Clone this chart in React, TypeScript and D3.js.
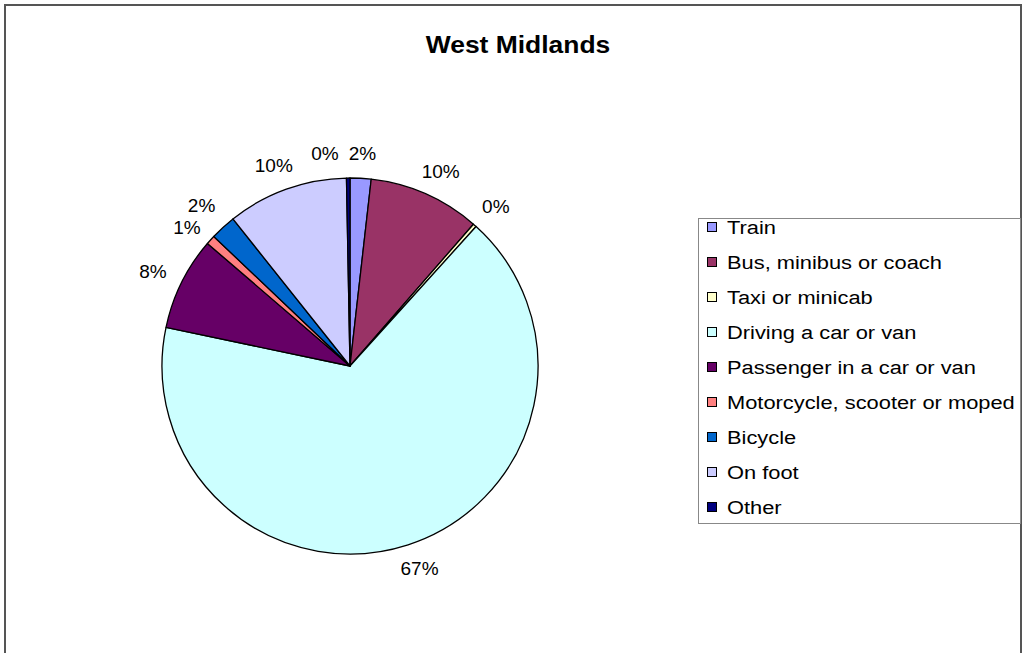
import React, { useEffect, useRef } from 'react';
import * as d3 from 'd3';

const categories: string[] = [
  'Train',
  'Bus, minibus or coach',
  'Taxi or minicab',
  'Driving a car or van',
  'Passenger in a car or van',
  'Motorcycle, scooter or moped',
  'Bicycle',
  'On foot',
  'Other',
];
// percent of trips
const shares: number[] = [1.8, 9.6, 0.3, 66.6, 8.0, 0.8, 2.2, 10.4, 0.3];
const colors: string[] = [
  '#9999FF',
  '#993366',
  '#FFFFCC',
  '#CCFFFF',
  '#660066',
  '#FF8080',
  '#0066CC',
  '#CCCCFF',
  '#000080',
];

const FONT = '"Liberation Sans", Arial, sans-serif';

interface LabelBox {
  x: number;
  y: number;
  w: number;
  h: number;
  angle: number;
}

const App: React.FC = () => {
  const ref = useRef<SVGSVGElement | null>(null);

  useEffect(() => {
    if (!ref.current) return;
    const width = 1024;
    const height = 653;

    const svg = d3.select(ref.current);
    svg.selectAll('*').remove();
    svg.attr('width', width).attr('height', height);

    // Frame
    svg
      .append('rect')
      .attr('x', 0)
      .attr('y', 0)
      .attr('width', width)
      .attr('height', height)
      .attr('fill', '#fff');
    svg
      .append('rect')
      .attr('x', 5)
      .attr('y', 5)
      .attr('width', 1016)
      .attr('height', 660)
      .attr('fill', 'none')
      .attr('stroke', '#555')
      .attr('stroke-width', 2);

    // Title
    svg
      .append('text')
      .attr('transform', 'translate(518,53) scale(1.15,1)')
      .attr('text-anchor', 'middle')
      .attr('font-family', FONT)
      .attr('font-weight', 'bold')
      .attr('font-size', 23)
      .text('West Midlands');

    // Pie
    const cx = 350;
    const cy = 366;
    const radius = 188;
    const labelOffset = 18;

    const pie = d3
      .pie<number>()
      .sort(null)
      .value((d) => d);
    const arcs = pie(shares);
    const arc = d3.arc<d3.PieArcDatum<number>>().innerRadius(0).outerRadius(radius);

    const g = svg.append('g').attr('transform', `translate(${cx},${cy})`);

    g.selectAll('path')
      .data(arcs)
      .enter()
      .append('path')
      .attr('d', arc)
      .attr('fill', (_, i) => colors[i])
      .attr('stroke', '#000')
      .attr('stroke-width', 1.3)
      .attr('stroke-linejoin', 'round');

    // Labels: box edge sits just outside the rim, like Excel's "outside end"
    const labels = g
      .selectAll('.label')
      .data(arcs)
      .enter()
      .append('text')
      .attr('class', 'label')
      .attr('text-anchor', 'middle')
      .attr('dy', '0.35em')
      .attr('font-family', FONT)
      .attr('font-size', 19)
      .attr('fill', '#000')
      .text((d) => `${Math.round(d.data)}%`);

    const boxes: LabelBox[] = [];
    labels.each(function (d) {
      const w = (this as SVGTextElement).getComputedTextLength();
      const h = 14;
      const a = (d.startAngle + d.endAngle) / 2;
      const s = Math.sin(a);
      const c = -Math.cos(a);
      const r = radius + labelOffset;
      boxes.push({ x: r * s + (s * w) / 2, y: r * c + (c * h) / 2, w, h, angle: a });
    });

    // push overlapping labels apart
    for (let pass = 0; pass < 4; pass++) {
      for (let i = 0; i < boxes.length; i++) {
        for (let j = i + 1; j < boxes.length; j++) {
          const a = boxes[i];
          const b = boxes[j];
          const ox = (a.w + b.w) / 2 + 10 - Math.abs(a.x - b.x);
          const oy = (a.h + b.h) / 2 + 8 - Math.abs(a.y - b.y);
          if (ox <= 0 || oy <= 0) continue;
          const side = Math.abs(Math.sin(b.angle)) > 0.6;
          if (side) {
            // split the shift between the two labels
            const dir = b.y < a.y ? -1 : 1;
            b.y += (dir * oy) / 2;
            a.y -= (dir * oy) / 2;
          } else {
            const dir = b.x < a.x ? -1 : 1;
            b.x += dir * ox;
          }
        }
      }
    }

    labels.attr('transform', (_, i) => `translate(${boxes[i].x},${boxes[i].y})`);

    // Legend
    const legend = svg.append('g');
    legend
      .append('rect')
      .attr('x', 698.5)
      .attr('y', 218.5)
      .attr('width', 322)
      .attr('height', 305)
      .attr('fill', '#fff')
      .attr('stroke', '#888')
      .attr('stroke-width', 1);

    const rowY = d3
      .scalePoint<string>()
      .domain(categories)
      .range([227, 507]);

    const rows = legend
      .selectAll('.row')
      .data(categories)
      .enter()
      .append('g')
      .attr('class', 'row')
      .attr('transform', (d) => `translate(0,${rowY(d) || 0})`);

    rows
      .append('rect')
      .attr('x', 707.5)
      .attr('y', -4.5)
      .attr('width', 9)
      .attr('height', 9)
      .attr('fill', (_, i) => colors[i])
      .attr('stroke', '#000')
      .attr('stroke-width', 1);

    rows
      .append('text')
      .attr('transform', 'translate(727,0) scale(1.15,1)')
      .attr('dy', '0.35em')
      .attr('font-family', FONT)
      .attr('font-size', 19)
      .attr('fill', '#000')
      .text((d) => d);
  }, []);

  return <svg ref={ref} style={{ position: 'absolute', left: 0, top: 0 }} />;
};

export default App;
